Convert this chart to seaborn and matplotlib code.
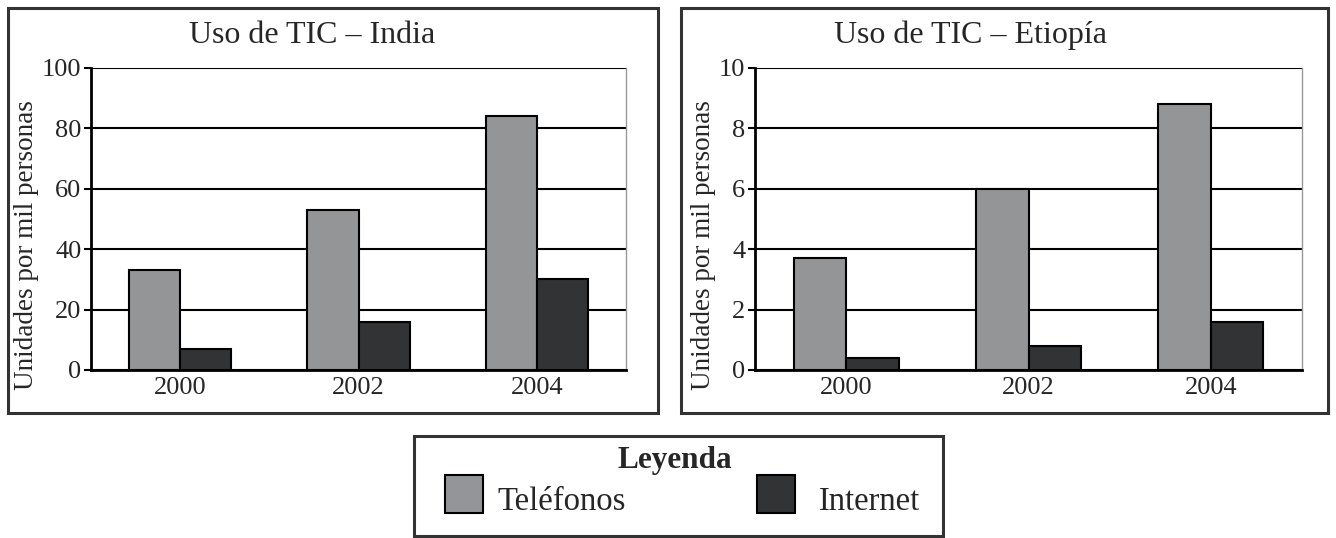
import seaborn as sns
import pandas as pd
import matplotlib.pyplot as plt
from matplotlib.patches import Rectangle

# data
years = ["2000", "2002", "2004"]
series = ["Teléfonos", "Internet"]
india_tel = [33, 53, 84]
india_int = [7, 16, 30]
etiopia_tel = [3.7, 6.0, 8.8]
etiopia_int = [0.4, 0.8, 1.6]
colors = {"Teléfonos": "#939598", "Internet": "#323335"}

sns.set_style("white")
plt.rcParams["font.family"] = ["Liberation Serif", "DejaVu Serif"]

W, H = 1336, 538
fig = plt.figure(figsize=(W / 100, H / 100), dpi=100)


def fx(px):
    return px / W


def fy(py):
    return 1 - py / H


def frame_box(x0, y0, x1, y1):
    fig.patches.append(Rectangle((fx(x0), fy(y1)), fx(x1 - x0), (y1 - y0) / H,
                                 transform=fig.transFigure, fill=False,
                                 edgecolor="#333333", linewidth=2.2))


def panel(x0, x1, tel, inet, ymax, title, title_x):
    ax = fig.add_axes([fx(x0), fy(370), fx(x1 - x0), (370 - 68) / H])
    df = pd.DataFrame({
        "year": years * 2,
        "serie": [series[0]] * 3 + [series[1]] * 3,
        "valor": tel + inet,
    })
    sns.barplot(data=df, x="year", y="valor", hue="serie", palette=colors,
                width=0.575, edgecolor="black", linewidth=1.5, legend=False,
                ax=ax, zorder=3)
    ax.set_ylim(0, ymax)
    ax.set_xlim(-0.5, 2.5)
    ax.set_yticks([ymax * i / 5 for i in range(6)])
    ax.set_yticklabels([f"{ymax * i // 5:g}" for i in range(6)])
    ax.yaxis.grid(True, color="black", linewidth=1.5, zorder=1)
    ax.set_axisbelow(True)
    ax.set_xticks([0, 1, 2])
    ax.set_xticks([-0.5, 0.5, 1.5, 2.5], minor=True)
    ax.tick_params(axis="x", which="major", length=0, labelsize=19, pad=5)
    ax.tick_params(axis="x", which="minor", length=5, width=1.5, direction="out", color="black")
    ax.tick_params(axis="y", length=5, width=1.5, direction="out", color="black",
                   labelsize=19, pad=2, left=True)
    for s in ["left", "bottom"]:
        ax.spines[s].set_color("black")
        ax.spines[s].set_linewidth(2)
    ax.spines["top"].set_visible(False)
    ax.spines["right"].set_color("#999999")
    ax.spines["right"].set_linewidth(1)
    ax.set_xlabel("")
    ax.set_ylabel("Unidades por mil personas", fontsize=19.5, y=0.414, labelpad=2)
    fig.text(fx(title_x), fy(43), title, fontsize=23, ha="center", va="baseline")
    return ax


frame_box(8, 8, 658, 413)
frame_box(681, 8, 1328, 413)
panel(91, 626, india_tel, india_int, 100, "Uso de TIC – India", 312)
panel(755, 1302, etiopia_tel, etiopia_int, 10, "Uso de TIC – Etiopía", 971)

# legend box
frame_box(414, 436, 943, 536)
fig.text(fx(675), fy(468), "Leyenda", fontsize=22.5, fontweight="bold",
         ha="center", va="baseline")
for (px, name), tx in zip([(445, series[0]), (757, series[1])], [497, 819]):
    fig.patches.append(Rectangle((fx(px), fy(513)), fx(38), 38 / H,
                                 transform=fig.transFigure,
                                 facecolor=colors[name], edgecolor="black",
                                 linewidth=1.5))
    fig.text(fx(tx), fy(510), name, fontsize=23.5, ha="left", va="baseline")

fig.savefig("out.png", dpi=100)
